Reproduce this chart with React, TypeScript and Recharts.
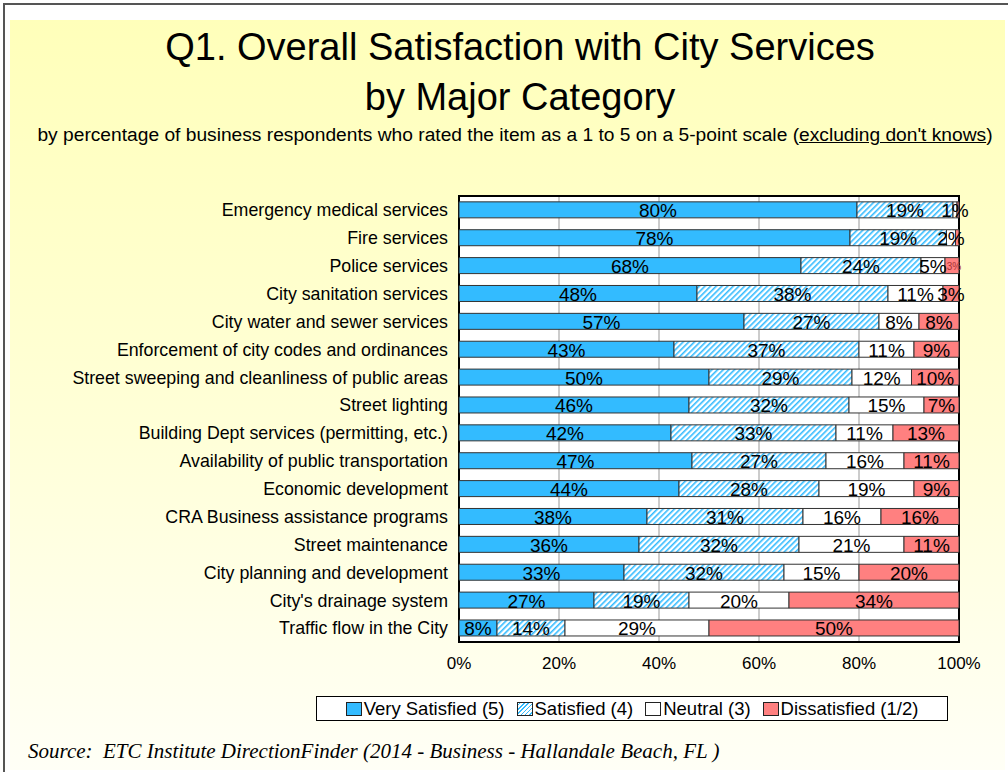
import { Bar, BarChart, CartesianGrid, LabelList, ReferenceArea, XAxis, YAxis } from "recharts";

const categories = [
  "Emergency medical services",
  "Fire services",
  "Police services",
  "City sanitation services ",
  "City water and sewer services",
  "Enforcement of city codes and ordinances",
  "Street sweeping and cleanliness of public areas",
  "Street lighting",
  "Building Dept services (permitting, etc.)",
  "Availability of public transportation",
  "Economic development",
  "CRA Business assistance programs",
  "Street maintenance",
  "City planning and development ",
  "City's drainage system",
  "Traffic flow in the City",
];

const verySatisfied = [79.6, 78.2, 68.4, 47.6, 57, 43, 50, 46, 42.4, 46.6, 44, 37.6, 36, 33, 27, 7.6];
const satisfied = [19.2, 19.3, 24, 38.2, 27, 37, 28.6, 32, 33, 26.8, 28, 31.2, 32, 32, 19, 13.6];
const neutral = [0.8, 1.8, 4.8, 11, 8, 11, 11.9, 15, 11.4, 15.6, 19, 15.6, 21, 15, 20, 28.8];
const dissatisfied = [0.4, 0.7, 2.8, 3.2, 8, 9, 9.5, 7, 13.2, 11, 9, 15.6, 11, 20, 34, 50];

const xTicks = [0, 20, 40, 60, 80, 100];

const BLUE = "#33BBFF";
const RED = "#FF8080";
const FONT = "'Liberation Sans', Arial, sans-serif";

const data = categories.map((name, i) => ({
  name,
  v5: verySatisfied[i],
  v4: satisfied[i],
  v3: neutral[i],
  v12: dissatisfied[i],
}));

// hide labels on slivers too thin to read; the red tail gets a tiny font when squeezed
function makeLabel(shrinkSmall: boolean) {
  return function SegLabel(props: any) {
    const { x, y, width, height, value } = props;
    if (value == null || value < 0.75) return null;
    const small = shrinkSmall && value < 3;
    return (
      <text
        x={x + width / 2 + (small ? 2 : 0)}
        y={y + height / 2 + 1}
        textAnchor="middle"
        dominantBaseline="central"
        fontSize={small ? 10 : 19}
        fontFamily={FONT}
        fill={small ? "#a33" : "#000"}
      >
        {Math.round(value)}%
      </text>
    );
  };
}

const legendItems = [
  { label: "Very Satisfied (5)", bg: BLUE },
  { label: "Satisfied (4)", bg: `repeating-linear-gradient(135deg, #fff 0 1px, ${BLUE} 1px 2px, #fff 2px 3px)` },
  { label: "Neutral (3)", bg: "#fff" },
  { label: "Dissatisfied (1/2)", bg: RED },
];

export default function App() {
  return (
    <div style={{ position: "absolute", left: 0, top: 0, width: 1008, height: 772, background: "#fff", overflow: "hidden", fontFamily: FONT }}>
      <div style={{ position: "absolute", left: 3, top: 3, width: 1010, height: 2, background: "#555" }} />
      <div style={{ position: "absolute", left: 3, top: 3, width: 2, height: 770, background: "#555" }} />
      <div
        style={{
          position: "absolute",
          left: 10,
          top: 20,
          width: 995,
          height: 750,
          background: "linear-gradient(#FFFFBA 0%, #FFFFD8 55%, #FFFFF6 100%)",
        }}
      />
      <div style={{ position: "absolute", left: 0, width: 1040, top: 22, textAlign: "center", fontSize: 38, lineHeight: "50px", color: "#000" }}>
        Q1. Overall Satisfaction with City Services
        <br />
        by Major Category
      </div>
      <div style={{ position: "absolute", left: 0, width: 1030, top: 124, textAlign: "center", fontSize: 19.2, color: "#000", whiteSpace: "nowrap" }}>
        by percentage of business respondents who rated the item as a 1 to 5 on a 5-point scale (<u>excluding don't knows</u>)
      </div>
      <div style={{ position: "absolute", left: 0, top: 0 }}>
        <BarChart
          width={1008}
          height={772}
          data={data}
          layout="vertical"
          margin={{ top: 196, right: 49, bottom: 100, left: 0 }}
          barCategoryGap="21%"
        >
          <defs>
            <pattern id="hatch" patternUnits="userSpaceOnUse" width="4" height="4" patternTransform="rotate(45)">
              <rect width="4" height="4" fill="#fff" />
              <rect width="1.6" height="4" fill={BLUE} />
            </pattern>
          </defs>
          <CartesianGrid horizontal={false} vertical stroke="#999" fill="#fff" />
          <XAxis
            type="number"
            domain={[0, 100]}
            ticks={xTicks}
            tickFormatter={(v) => `${v}%`}
            axisLine={false}
            tickLine={false}
            height={30}
            tick={{ fontSize: 17, fill: "#000", fontFamily: FONT }}
            tickMargin={9}
          />
          <YAxis
            type="category"
            dataKey="name"
            width={459}
            axisLine={false}
            tickLine={false}
            interval={0}
            tick={{ fontSize: 17.8, fill: "#000", fontFamily: FONT }}
            tickMargin={5}
          />
          <Bar dataKey="v5" stackId="s" fill={BLUE} stroke="#333" strokeWidth={1} isAnimationActive={false}>
            <LabelList dataKey="v5" content={makeLabel(false)} />
          </Bar>
          <Bar dataKey="v4" stackId="s" fill="url(#hatch)" stroke="#333" strokeWidth={1} isAnimationActive={false}>
            <LabelList dataKey="v4" content={makeLabel(false)} />
          </Bar>
          <Bar dataKey="v3" stackId="s" fill="#fff" stroke="#333" strokeWidth={1} isAnimationActive={false}>
            <LabelList dataKey="v3" content={makeLabel(false)} />
          </Bar>
          <Bar dataKey="v12" stackId="s" fill={RED} stroke="#333" strokeWidth={1} isAnimationActive={false}>
            <LabelList dataKey="v12" content={makeLabel(true)} />
          </Bar>
          <ReferenceArea x1={0} x2={100} fill="none" stroke="#000" strokeWidth={2} ifOverflow="visible" />
        </BarChart>
      </div>
      <div
        style={{
          position: "absolute",
          left: 316,
          top: 696,
          width: 630,
          height: 23,
          border: "1px solid #000",
          background: "#fff",
          display: "flex",
          alignItems: "center",
          justifyContent: "center",
          gap: 12,
          fontSize: 18.5,
          whiteSpace: "nowrap",
        }}
      >
        {legendItems.map((it) => (
          <span key={it.label} style={{ display: "flex", alignItems: "center" }}>
            <span style={{ width: 14, height: 12, border: "1px solid #222", background: it.bg, marginRight: 2 }} />
            {it.label}
          </span>
        ))}
      </div>
      <div
        style={{
          position: "absolute",
          left: 28,
          top: 739,
          fontFamily: "'Liberation Serif', 'Times New Roman', serif",
          fontStyle: "italic",
          fontSize: 21,
          whiteSpace: "pre",
        }}
      >
        {"Source:  ETC Institute DirectionFinder (2014 - Business - Hallandale Beach, FL )"}
      </div>
    </div>
  );
}
